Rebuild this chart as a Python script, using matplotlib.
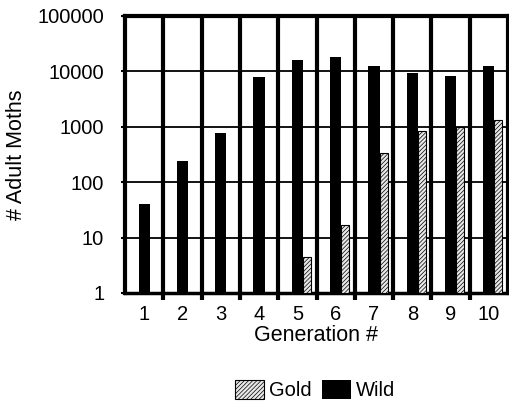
import numpy as np
import matplotlib
matplotlib.use("Agg")
import matplotlib.pyplot as plt
from matplotlib.ticker import FixedLocator, NullFormatter

plt.rcParams['font.family'] = ['Liberation Sans', 'DejaVu Sans']
plt.rcParams['hatch.linewidth'] = 0.5

# generation number and moth counts (log scale)
generations = [1, 2, 3, 4, 5, 6, 7, 8, 9, 10]
wild = [40, 240, 760, 8000, 16000, 18000, 12500, 9500, 8400, 12300]
gold = [0, 0, 0, 0, 4.5, 17, 340, 830, 980, 1350]
yticks = [1, 10, 100, 1000, 10000, 100000]

fig = plt.figure(figsize=(5.1, 4.04), dpi=100)
ax = fig.add_axes([125/510, 1 - 293/404, 383/510, 277/404])

x = np.array(generations)
wild_w = 0.29
gold_w = 0.21
ax.bar(x, wild, width=wild_w, bottom=1, color='black', label='Wild', zorder=3)
gold_vals = np.array(gold, dtype=float)
mask = gold_vals > 0
ax.bar(x[mask] + wild_w/2 + gold_w/2, gold_vals[mask] - 1, width=gold_w, bottom=1,
       facecolor='#e8e8e8', edgecolor='black', hatch='////////', linewidth=0.8,
       label='Gold', zorder=3)

ax.set_yscale('log')
ax.set_ylim(1, 100000)
ax.set_xlim(0.5, 10.5)
ax.set_yticks(yticks)
ax.set_yticklabels([str(v) for v in yticks])
ax.yaxis.set_minor_locator(FixedLocator([]))
ax.set_xticks(generations)
ax.xaxis.set_minor_locator(FixedLocator(np.arange(1.5, 10.5, 1.0)))
ax.xaxis.set_minor_formatter(NullFormatter())

ax.tick_params(axis='x', which='major', length=0, pad=9, labelsize=14.5)
ax.tick_params(axis='x', which='minor', length=5, width=3, direction='out')
ax.tick_params(axis='y', which='major', length=3, width=1.5, pad=12, labelsize=14.5)

ax.grid(axis='y', which='major', color='black', linewidth=1.3, zorder=1)
ax.grid(axis='x', which='minor', color='black', linewidth=3, zorder=1)
ax.set_axisbelow(True)

for side in ['left', 'top', 'right']:
    ax.spines[side].set_linewidth(3)
ax.spines['bottom'].set_linewidth(2.5)

ax.set_ylabel('# Adult Moths', fontsize=15.5, va='center')
ax.yaxis.set_label_coords(-0.283, 0.5)
ax.set_xlabel('Generation #', fontsize=15.5, va='center')
ax.xaxis.set_label_coords(0.5, -0.155)

handles, labels = ax.get_legend_handles_labels()
fig.legend(handles[::-1], labels[::-1], loc='center', bbox_to_anchor=(0.618, 1 - 390/404),
           ncol=2, frameon=False, fontsize=14.5, handlelength=1.45, handleheight=1.1,
           handletextpad=0.25, columnspacing=0.5, borderpad=0)

fig.savefig('out.png', dpi=100)
